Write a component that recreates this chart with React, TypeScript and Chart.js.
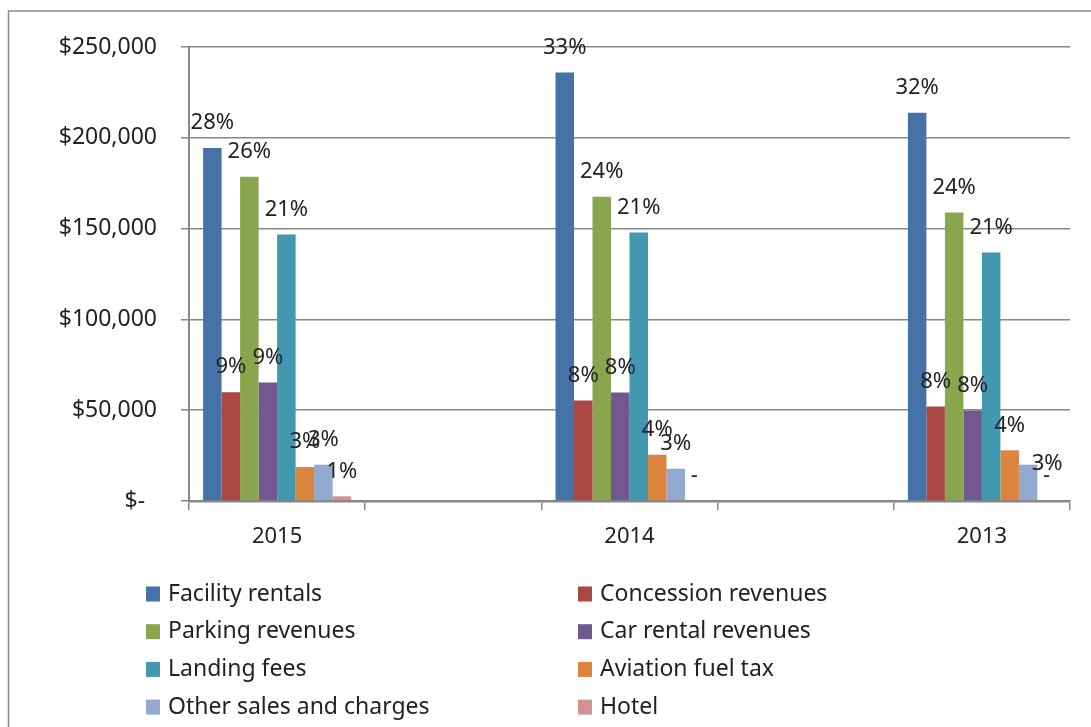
import React, { useEffect, useRef } from "react";
import { Chart, registerables } from "chart.js";

Chart.register(...registerables);

const years = ["2015", "2014", "2013"];
const seriesNames = [
  "Facility rentals",
  "Concession revenues",
  "Parking revenues",
  "Car rental revenues",
  "Landing fees",
  "Aviation fuel tax",
  "Other sales and charges",
  "Hotel",
];
const seriesColors = [
  "#4572A7",
  "#AA4643",
  "#89A54E",
  "#71588F",
  "#4198AF",
  "#DB843D",
  "#93A9CF",
  "#D19392",
];

// values per year [2015, 2014, 2013]
const facilityRentals = [194400, 235900, 213800];
const concessionRevenues = [59900, 55400, 52000];
const parkingRevenues = [178600, 167600, 158800];
const carRentalRevenues = [65200, 59700, 49800];
const landingFees = [146700, 147800, 136800];
const aviationFuelTax = [18700, 25500, 27900];
const otherSalesCharges = [20000, 17800, 20000];
const hotel = [2600, 0, 0];

// data labels per year [2015, 2014, 2013]
const facilityPct = ["28%", "33%", "32%"];
const concessionPct = ["9%", "8%", "8%"];
const parkingPct = ["26%", "24%", "24%"];
const carRentalPct = ["9%", "8%", "8%"];
const landingPct = ["21%", "21%", "21%"];
const aviationPct = ["3%", "4%", "4%"];
const otherPct = ["3%", "3%", "3%"];
const hotelPct = ["1%", "-", "-"];

const yTickValues = [0, 50000, 100000, 150000, 200000, 250000];
const yTickLabels = ["$-  ", "$50,000", "$100,000", "$150,000", "$200,000", "$250,000"];

const allValues = [
  facilityRentals,
  concessionRevenues,
  parkingRevenues,
  carRentalRevenues,
  landingFees,
  aviationFuelTax,
  otherSalesCharges,
  hotel,
];
const allPct = [
  facilityPct,
  concessionPct,
  parkingPct,
  carRentalPct,
  landingPct,
  aviationPct,
  otherPct,
  hotelPct,
];

// categories with empty spacer slots between the years
const categorySlots = [years[0], "", years[1], "", years[2]];
function spread<T>(v: T[], empty: T): T[] {
  return [v[0], empty, v[1], empty, v[2]];
}

const FONT = "'Noto Sans', sans-serif";
const TEXT = "#222222";
const GRID = "#878787";

const framePlugin = {
  id: "frame",
  beforeDraw(chart: any) {
    const ctx = chart.ctx;
    ctx.save();
    ctx.fillStyle = "#ffffff";
    ctx.fillRect(0, 0, chart.width, chart.height);
    ctx.strokeStyle = "#8a8a8a";
    ctx.lineWidth = 1.5;
    ctx.strokeRect(8.5, 11, 1300, 1000);
    ctx.restore();
  },
};

const labelPlugin = {
  id: "barLabels",
  afterDatasetsDraw(chart: any) {
    const ctx = chart.ctx;
    ctx.save();
    ctx.font = `22px ${FONT}`;
    ctx.fillStyle = TEXT;
    ctx.textAlign = "center";
    ctx.textBaseline = "middle";
    const nudges: any[] = chart.options.plugins.barLabels?.nudges || [];
    chart.data.datasets.forEach((ds: any, i: number) => {
      const meta = chart.getDatasetMeta(i);
      meta.data.forEach((el: any, j: number) => {
        const txt = ds.pctLabels[j];
        if (!txt || ds.data[j] === null) return;
        let dx = 0;
        let dy = 0;
        nudges.forEach((n) => {
          if (n.dataset === i && n.index === j) {
            dx = n.dx;
            dy = n.dy;
          }
        });
        ctx.fillText(txt, el.x + dx, el.y - 25 + dy);
      });
    });
    ctx.restore();
  },
};

const legendPlugin = {
  id: "gridLegend",
  afterDraw(chart: any) {
    const ctx = chart.ctx;
    ctx.save();
    ctx.font = `23px ${FONT}`;
    ctx.textBaseline = "middle";
    ctx.textAlign = "left";
    chart.data.datasets.forEach((ds: any, i: number) => {
      const col = i % 2;
      const row = Math.floor(i / 2);
      const bx = 146 + col * 432;
      const cy = 594 + row * 37.7;
      ctx.fillStyle = ds.backgroundColor;
      ctx.fillRect(bx, cy - 7.5, 14, 15);
      ctx.fillStyle = TEXT;
      ctx.fillText(ds.label, bx + 22, cy);
    });
    ctx.restore();
  },
};

export default function App() {
  const ref = useRef<HTMLCanvasElement | null>(null);

  useEffect(() => {
    if (!ref.current) return;
    const datasets = seriesNames.map((name, i) => ({
      label: name,
      data: spread<number | null>(allValues[i], null),
      pctLabels: spread<string>(allPct[i], ""),
      backgroundColor: seriesColors[i],
      borderWidth: 0,
      categoryPercentage: 0.84,
      barPercentage: 1.0,
      skipNull: false,
    }));

    const chart = new Chart(ref.current, {
      type: "bar",
      data: { labels: categorySlots, datasets: datasets as any },
      plugins: [framePlugin, labelPlugin, legendPlugin],
      options: {
        responsive: false,
        animation: false,
        layout: { padding: { left: 0, right: 21, top: 47, bottom: 0 } },
        plugins: {
          legend: { display: false },
          tooltip: { enabled: false },
          barLabels: { nudges: [{ dataset: 6, index: 4, dx: 19, dy: 24 }] },
        } as any,
        scales: {
          x: {
            type: "category",
            offset: true,
            afterFit: (s: any) => {
              s.height = 226;
            },
            grid: {
              offset: true,
              drawOnChartArea: false,
              drawTicks: true,
              tickLength: 9,
              color: GRID,
              lineWidth: 1.5,
            },
            border: { display: true, color: GRID, width: 2.5 },
            ticks: {
              autoSkip: false,
              maxRotation: 0,
              padding: 14,
              color: TEXT,
              font: { family: FONT, size: 22 },
            },
          },
          y: {
            min: 0,
            max: 250000,
            afterFit: (s: any) => {
              s.width = 189;
            },
            afterBuildTicks: (s: any) => {
              s.ticks = yTickValues.map((v) => ({ value: v }));
            },
            grid: {
              color: GRID,
              lineWidth: 1.5,
              tickLength: 8,
              drawTicks: true,
            },
            border: { display: true, color: GRID, width: 2 },
            ticks: {
              padding: 24,
              color: TEXT,
              font: { family: FONT, size: 23 },
              callback: (v: any) => {
                const idx = yTickValues.indexOf(Number(v));
                return idx >= 0 ? yTickLabels[idx] : "";
              },
            },
          },
        },
      } as any,
    });
    return () => chart.destroy();
  }, []);

  return (
    <div style={{ position: "absolute", left: 0, top: 0, width: 1091, height: 727 }}>
      <canvas ref={ref} width={1091} height={727} style={{ display: "block" }} />
    </div>
  );
}
